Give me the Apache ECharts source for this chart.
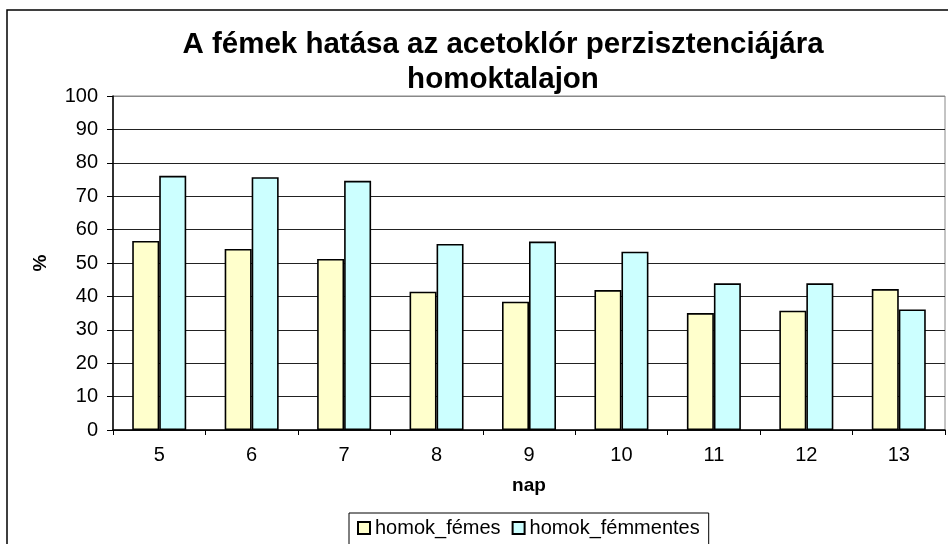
<!DOCTYPE html>
<html>
<head>
<meta charset="utf-8">
<script src="https://cdn.jsdelivr.net/npm/echarts@6/dist/echarts.min.js"></script>
<style>
  html, body { margin: 0; padding: 0; background: #fff; }
  #chart { width: 948px; height: 544px; }
</style>
</head>
<body>
<div id="chart"></div>
<script>
// Days of measurement
const days = ['5', '6', '7', '8', '9', '10', '11', '12', '13'];
// Remaining acetochlor (%) in sandy soil with metals
const homokFemes = [56.6, 54.2, 51.2, 41.4, 38.4, 41.9, 35.0, 35.7, 42.2];
// Remaining acetochlor (%) in sandy soil without metals
const homokFemmentes = [76.1, 75.7, 74.6, 55.7, 56.4, 53.4, 43.9, 43.9, 36.1];
const yTicks = { min: 0, max: 100, interval: 10 };

const FONT = '"Liberation Sans", Arial, sans-serif';
const chart = echarts.init(document.getElementById('chart'), null, { renderer: 'canvas' });

// Grid lines are dark; the topmost one coincides with the grey plot border
const gridColors = ['#222', '#222', '#222', '#222', '#222', '#222', '#222', '#222', '#222', '#222', '#888'];

chart.setOption({
  backgroundColor: '#ffffff',
  animation: false,
  title: {
    text: 'A fémek hatása az acetoklór perzisztenciájára\nhomoktalajon',
    left: 498,
    top: 22,
    textAlign: 'center',
    textStyle: {
      fontFamily: FONT,
      fontSize: 29.5,
      fontWeight: 'bold',
      color: '#000',
      lineHeight: 35
    }
  },
  graphic: [
    {
      type: 'polyline',
      shape: { points: [[7, 544], [7, 10], [948, 10]] },
      style: { stroke: '#000', lineWidth: 1.5, fill: null },
      z: 0
    }
  ],
  legend: {
    top: 513,
    left: 349,
    itemWidth: 12,
    itemHeight: 12,
    itemGap: 11,
    padding: [5, 9, 14, 8],
    borderColor: '#000',
    borderWidth: 1,
    backgroundColor: '#fff',
    icon: 'rect',
    textStyle: { fontFamily: FONT, fontSize: 20, color: '#000' },
    data: ['homok_fémes', 'homok_fémmentes']
  },
  grid: {
    left: 113,
    right: 3,
    top: 96,
    bottom: 114,
    show: true,
    borderColor: '#888',
    borderWidth: 1
  },
  xAxis: {
    type: 'category',
    data: days,
    name: 'nap',
    nameLocation: 'middle',
    nameGap: 46,
    nameTextStyle: { fontFamily: FONT, fontSize: 19, fontWeight: 'bold', color: '#000' },
    axisLine: { show: true, lineStyle: { color: '#000', width: 1.5 } },
    axisTick: { show: true, length: 5, lineStyle: { color: '#000' } },
    axisLabel: { fontFamily: FONT, fontSize: 20, color: '#000', margin: 15 },
    splitLine: { show: false }
  },
  yAxis: {
    type: 'value',
    min: yTicks.min,
    max: yTicks.max,
    interval: yTicks.interval,
    name: '%',
    nameLocation: 'middle',
    nameGap: 63,
    nameRotate: 90,
    nameTextStyle: { fontFamily: FONT, fontSize: 19, fontWeight: 'bold', color: '#000' },
    axisLine: { show: true, lineStyle: { color: '#000', width: 1.5 } },
    axisTick: { show: true, length: 6, lineStyle: { color: '#000' } },
    axisLabel: { fontFamily: FONT, fontSize: 20, color: '#000', margin: 15 },
    splitLine: { show: true, lineStyle: { color: gridColors, width: 1 } }
  },
  series: [
    {
      name: 'homok_fémes',
      type: 'bar',
      data: homokFemes,
      barWidth: 27,
      barGap: '0%',
      itemStyle: { color: '#FFFFCC', borderColor: '#000', borderWidth: 1.6 }
    },
    {
      name: 'homok_fémmentes',
      type: 'bar',
      data: homokFemmentes,
      barWidth: 27,
      barGap: '0%',
      itemStyle: { color: '#CCFFFF', borderColor: '#000', borderWidth: 1.6 }
    }
  ]
});
</script>
</body>
</html>
